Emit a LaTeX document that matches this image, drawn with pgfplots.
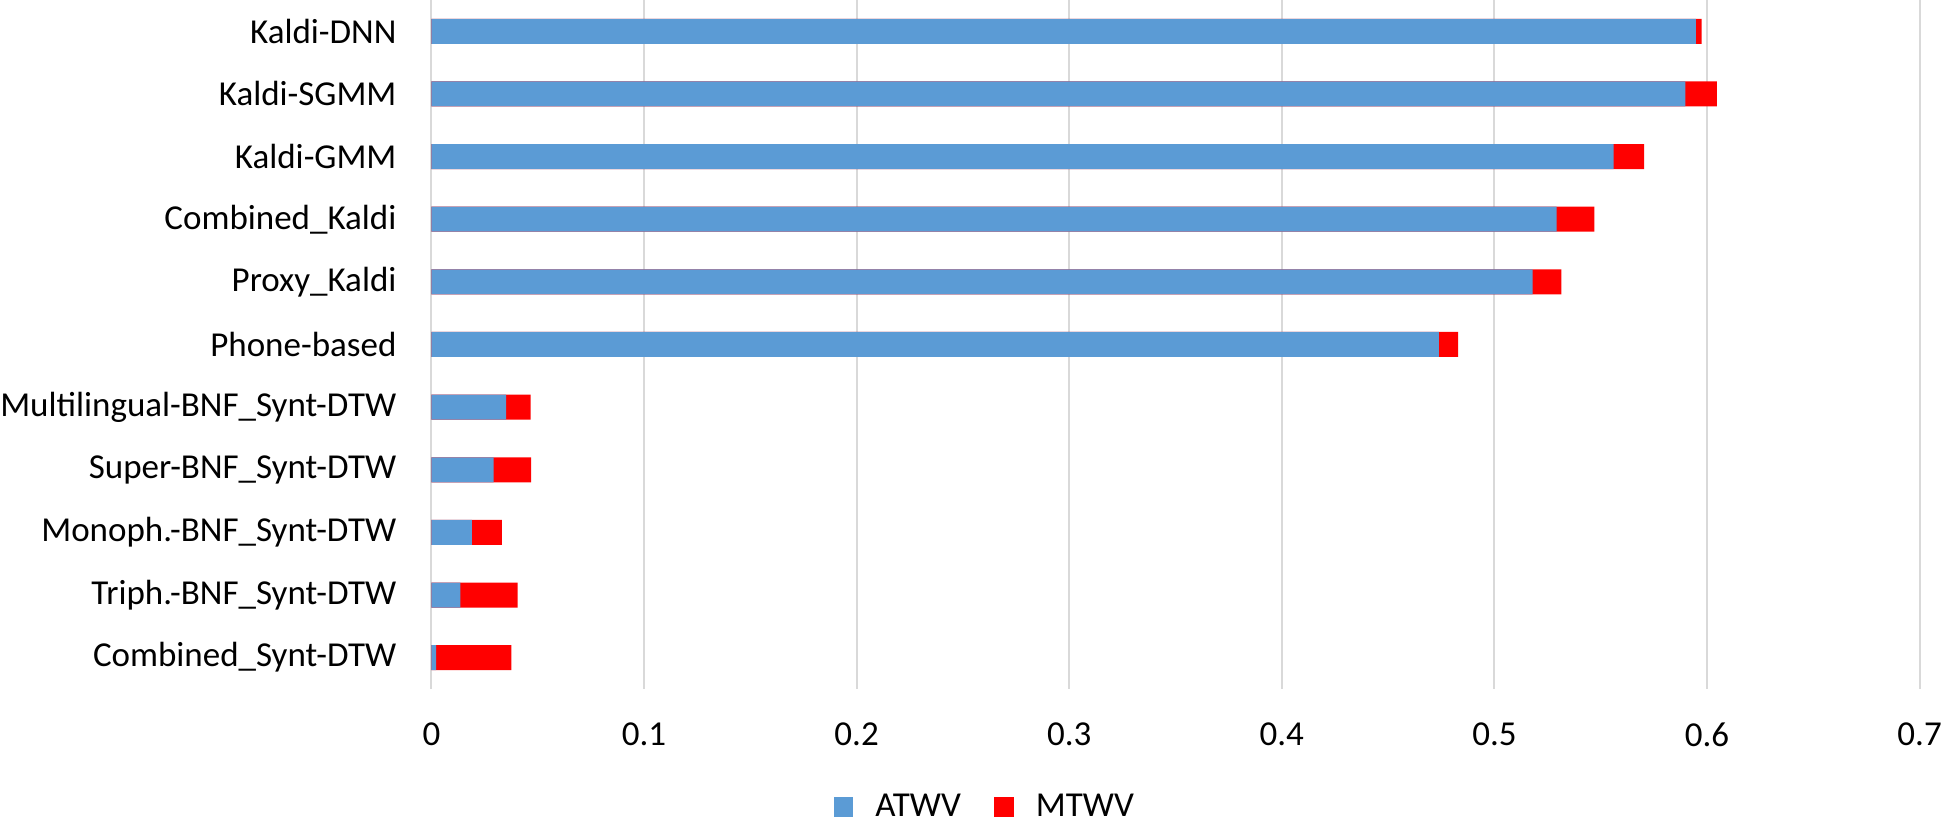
\documentclass[border=0pt]{standalone}
\usepackage{fontspec}
\setmainfont{Carlito}
\usepackage{pgfplots}
\pgfplotsset{compat=1.18}
\definecolor{atwv}{HTML}{5B9BD5}
\definecolor{mtwv}{HTML}{FF0000}
\definecolor{gridgray}{HTML}{D9D9D9}
\begin{document}
\begin{tikzpicture}[font=\fontsize{12.6}{15}\selectfont]
\begin{axis}[
    at={(0,0)}, anchor=south west,
    width=535.7pt, height=248pt,
    scale only axis,
    xbar, bar width=9pt,
    xmin=0, xmax=0.7,
    ymin=-0.5, ymax=10.5,
    y dir=reverse,
    xtick={0,0.1,...,0.7},
    xticklabels={0,0.1,0.2,0.3,0.4,0.5,0.6,0.7},
    ytick={0,...,10},
    yticklabels={Kaldi-DNN, Kaldi-SGMM, Kaldi-GMM, Combined\_Kaldi, Proxy\_Kaldi, Phone-based,
        Multilingual-BNF\_Synt-DTW, Super-BNF\_Synt-DTW, Monoph.-BNF\_Synt-DTW,
        Triph.-BNF\_Synt-DTW, Combined\_Synt-DTW},
    major tick length=0pt,
    axis line style={draw=none},
    xmajorgrids=true,
    grid style={gridgray, line width=0.75pt},
    yticklabel style={anchor=east, inner sep=0pt, xshift=-12.4pt},
    xticklabel style={anchor=north, inner sep=0pt, yshift=-12pt},
    legend style={draw=none, fill=none, at={(0.373,-0.172)}, anchor=center,
        legend columns=2, column sep=6pt, inner sep=0pt,
        /tikz/every even column/.append style={column sep=10pt}},
    legend image code/.code={\fill[#1] (0pt,-3.6pt) rectangle (7pt,3.6pt);},
]
% MTWV drawn first (full length), ATWV on top
\addplot[fill=mtwv, draw=none, bar shift=0pt, forget plot] coordinates {
    (0.5974,0) (0.6046,1) (0.5704,2) (0.5470,3) (0.5315,4) (0.4829,5)
    (0.0466,6) (0.0469,7) (0.0331,8) (0.0405,9) (0.0376,10)
};
\addplot[fill=atwv, draw=none, bar shift=0pt, forget plot] coordinates {
    (0.5948,0) (0.5898,1) (0.5560,2) (0.5293,3) (0.5180,4) (0.4739,5)
    (0.0351,6) (0.0292,7) (0.0190,8) (0.0136,9) (0.0022,10)
};
\addlegendimage{fill=atwv, draw=none}
\addlegendentry{ATWV}
\addlegendimage{fill=mtwv, draw=none}
\addlegendentry{MTWV}
\end{axis}
\pgfresetboundingbox
\path (-155.3pt,-49pt) rectangle (544.1pt,248pt);
\end{tikzpicture}
\end{document}
